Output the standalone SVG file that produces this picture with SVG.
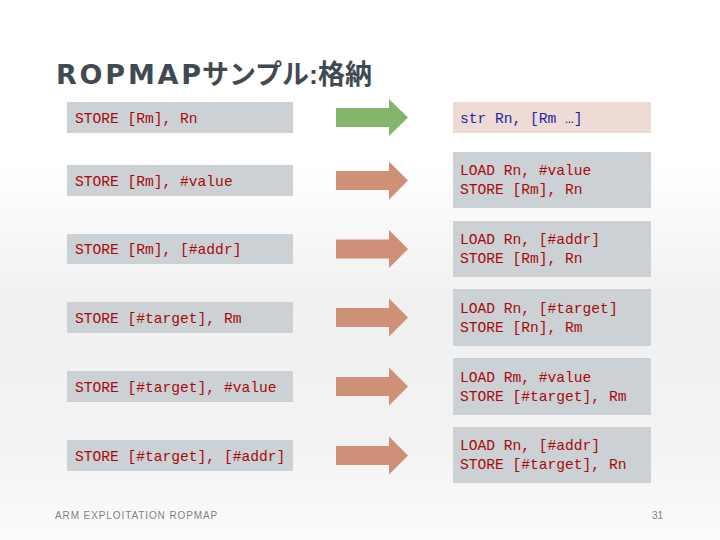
<svg xmlns="http://www.w3.org/2000/svg" width="720" height="540" viewBox="0 0 720 540">
<defs>
<linearGradient id="bg" x1="0" y1="0" x2="0" y2="1">
<stop offset="0" stop-color="#ffffff"/>
<stop offset="0.3" stop-color="#ffffff"/>
<stop offset="0.55" stop-color="#f1f1f1"/>
<stop offset="0.8" stop-color="#f2f2f2"/>
<stop offset="1" stop-color="#fbfbfb"/>
</linearGradient>
<style>
.box{fill:#ccd1d5}
.pink{fill:#eedbd5}
.code{font-family:"Liberation Mono","DejaVu Sans Mono",monospace;font-size:14.6px;fill:#a80a0a}
.blue{fill:#1c24a4}
.arr{fill:#cf9078}
.green{fill:#84b56a}
.title{font-family:"Liberation Sans","Noto Sans CJK JP",sans-serif;font-weight:bold;font-size:27px;fill:#404a53}
.foot{font-family:"Liberation Sans",Arial,sans-serif;font-size:10px;fill:#808080}
</style>
</defs>
<rect width="720" height="540" fill="url(#bg)"/>
<text class="title" x="56" y="84"><tspan font-family="'DejaVu Sans',sans-serif" letter-spacing="2.8">ROPMAP</tspan><tspan dx="-2">サンプル:格納</tspan></text>

<g id="src1"><rect class="box" x="67" y="102" width="226" height="31"/><text class="code" x="75" y="123">STORE [Rm], Rn</text></g>
<g id="src2"><rect class="box" x="67" y="165" width="226" height="31"/><text class="code" x="75" y="186">STORE [Rm], #value</text></g>
<g id="src3"><rect class="box" x="67" y="234" width="226" height="30"/><text class="code" x="75" y="254">STORE [Rm], [#addr]</text></g>
<g id="src4"><rect class="box" x="67" y="302" width="226" height="31"/><text class="code" x="75" y="323">STORE [#target], Rm</text></g>
<g id="src5"><rect class="box" x="67" y="371" width="226" height="31"/><text class="code" x="75" y="392">STORE [#target], #value</text></g>
<g id="src6"><rect class="box" x="67" y="440" width="226" height="31"/><text class="code" x="75" y="461">STORE [#target], [#addr]</text></g>

<g id="dst1"><rect class="pink" x="453" y="102" width="198" height="31"/><text class="code blue" x="460" y="123">str Rn, [Rm …]</text></g>
<g id="dst2"><rect class="box" x="453" y="152" width="198" height="56"/><text class="code" x="460" y="175">LOAD Rn, #value</text><text class="code" x="460" y="194">STORE [Rm], Rn</text></g>
<g id="dst3"><rect class="box" x="453" y="221" width="198" height="56"/><text class="code" x="460" y="244">LOAD Rn, [#addr]</text><text class="code" x="460" y="263">STORE [Rm], Rn</text></g>
<g id="dst4"><rect class="box" x="453" y="289" width="198" height="57"/><text class="code" x="460" y="313">LOAD Rn, [#target]</text><text class="code" x="460" y="332">STORE [Rn], Rm</text></g>
<g id="dst5"><rect class="box" x="453" y="358" width="198" height="57"/><text class="code" x="460" y="382">LOAD Rm, #value</text><text class="code" x="460" y="401">STORE [#target], Rm</text></g>
<g id="dst6"><rect class="box" x="453" y="427" width="198" height="56"/><text class="code" x="460" y="450">LOAD Rn, [#addr]</text><text class="code" x="460" y="469">STORE [#target], Rn</text></g>

<g id="connectors">
<polygon class="green" points="336,108 389,108 389,99 408,117.5 389,136 389,127 336,127"/>
<polygon class="arr" points="336,171 389,171 389,161.5 408,180.5 389,199.5 389,190 336,190"/>
<polygon class="arr" points="336,239.5 389,239.5 389,230 408,249 389,268 389,258.5 336,258.5"/>
<polygon class="arr" points="336,308 389,308 389,298.5 408,317.5 389,336.5 389,327 336,327"/>
<polygon class="arr" points="336,377 389,377 389,367.5 408,386.5 389,405.5 389,396 336,396"/>
<polygon class="arr" points="336,446 389,446 389,436.5 408,455.5 389,474.5 389,465 336,465"/>
</g>

<text class="foot" x="55" y="519" letter-spacing="0.9">ARM EXPLOITATION ROPMAP</text>
<text class="foot" x="652" y="519">31</text>
</svg>
